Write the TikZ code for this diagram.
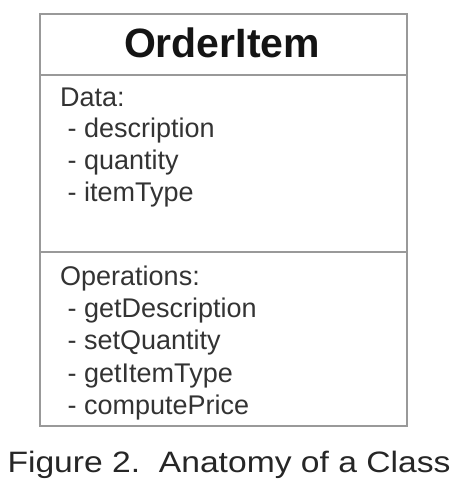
\documentclass[tikz,border=0pt]{standalone}
\usepackage{fontspec}
\setmainfont{Liberation Sans}
\begin{document}
\begin{tikzpicture}[x=1pt,y=-1pt,
  frame/.style={draw=black!40,line width=1.4pt},
  title/.style={font=\fontsize{41}{49}\selectfont\bfseries,text=black!92,anchor=base},
  member/.style={font=\fontsize{27}{32}\selectfont,text=black!80,anchor=base west,inner sep=0pt},
  caption/.style={font=\fontsize{29.5}{35}\selectfont,text=black!85,anchor=base,inner sep=0pt}]
  \useasboundingbox (0,0) rectangle (462,502);
  % class box with its three compartments
  \draw[frame] (40,14) rectangle (407,426);
  \draw[frame] (40,75) -- (407,75);
  \draw[frame] (40,252) -- (407,252);
  % name compartment
  \node[title] (name) at (222,58) {OrderItem};
  % attributes
  \node[member] (data) at (60,107) {Data:};
  \node[member] (a1) at (60,138) {\ - description};
  \node[member] (a2) at (60,170) {\ - quantity};
  \node[member] (a3) at (60,202) {\ - itemType};
  % operations
  \node[member] (ops) at (60,285) {Operations:};
  \node[member] (o1) at (60,317) {\ - getDescription};
  \node[member] (o2) at (60,349) {\ - setQuantity};
  \node[member] (o3) at (60,382) {\ - getItemType};
  \node[member] (o4) at (60,414) {\ - computePrice};
  % caption, set slightly wide
  \node[caption] (cap) at (229,472) {\scalebox{1.14}[1]{Figure 2.\ \ Anatomy of a Class}};
\end{tikzpicture}
\end{document}
